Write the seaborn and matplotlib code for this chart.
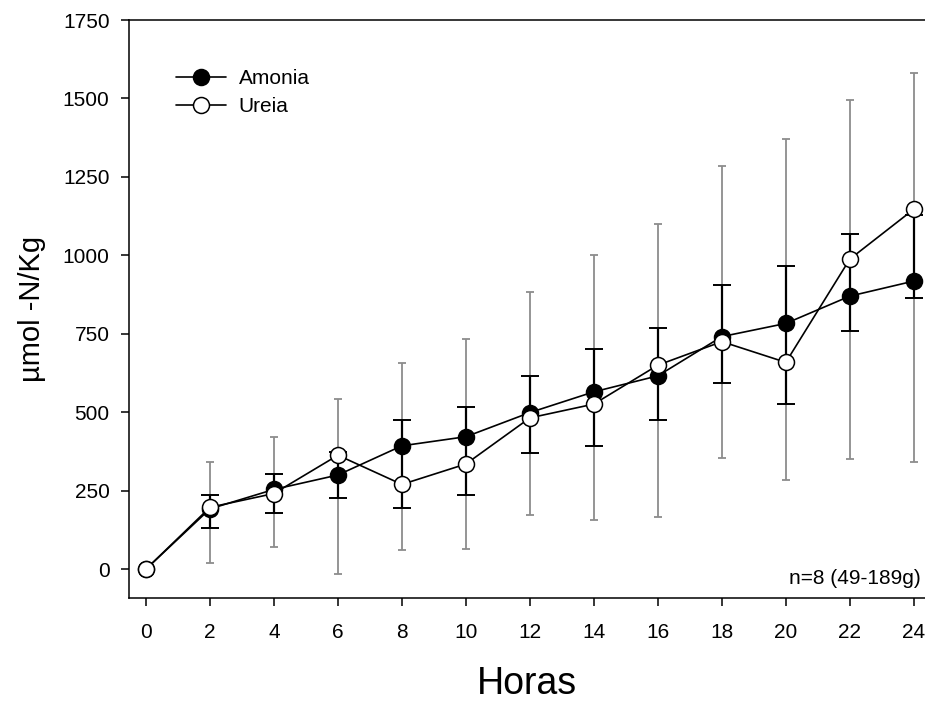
import numpy as np
import pandas as pd
import matplotlib
matplotlib.use("Agg")
import matplotlib.pyplot as plt
import seaborn as sns

hours = [0, 2, 4, 6, 8, 10, 12, 14, 16, 18, 20, 22, 24]
amonia = [0, 192, 254, 300, 393, 422, 499, 565, 616, 741, 783, 870, 918]
ureia = [0, 197, 241, 363, 270, 335, 482, 526, 650, 725, 659, 988, 1147]
amonia_low = [np.nan, 132, 180, 226, 194, 236, 369, 393, 476, 593, 525, 760, 864]
amonia_high = [np.nan, 236, 303, 374, 475, 517, 616, 700, 768, 907, 966, 1067, 1128]
ureia_low = [np.nan, 20, 71, -17, 61, 63, 172, 158, 165, 355, 285, 352, 342]
ureia_high = [np.nan, 340, 420, 541, 657, 732, 883, 1001, 1099, 1284, 1370, 1494, 1581]
yticks = [0, 250, 500, 750, 1000, 1250, 1500, 1750]
xticks = hours

sns.set_style("ticks")
plt.rcParams['font.family'] = ['Liberation Sans', 'DejaVu Sans']
plt.rcParams['text.color'] = 'black'
plt.rcParams['axes.labelcolor'] = 'black'

fig = plt.figure(figsize=(9.25, 7.02), dpi=100)
ax = fig.add_axes([129/925, 104/702, 796/925, 578/702])

df = pd.DataFrame({"Horas": hours, "Amonia": amonia, "Ureia": ureia,
                   "a_lo": amonia_low, "a_hi": amonia_high,
                   "u_lo": ureia_low, "u_hi": ureia_high})
e = df.dropna()

# gray error bars (Ureia)
ax.errorbar(e["Horas"], e["Ureia"],
            yerr=[e["Ureia"] - e["u_lo"], e["u_hi"] - e["Ureia"]],
            fmt='none', ecolor='#8c8c8c', elinewidth=1.3, capsize=3, capthick=1.3, zorder=1)
# black error bars (Amonia)
ax.errorbar(e["Horas"], e["Amonia"],
            yerr=[e["Amonia"] - e["a_lo"], e["a_hi"] - e["Amonia"]],
            fmt='none', ecolor='black', elinewidth=1.6, capsize=6.5, capthick=1.4, zorder=2)

sns.lineplot(data=df, x="Horas", y="Amonia", ax=ax, color='black', lw=1.2,
             marker='o', markersize=11.5, markerfacecolor='black', markeredgecolor='black',
             markeredgewidth=1.1, label='Amonia', zorder=3)
sns.lineplot(data=df, x="Horas", y="Ureia", ax=ax, color='black', lw=1.2,
             marker='o', markersize=11.5, markerfacecolor='white', markeredgecolor='black',
             markeredgewidth=1.1, label='Ureia', zorder=4)

ax.set_xlim(-0.53, 24.35)
ax.set_ylim(-92, 1750)
ax.set_xticks(xticks)
ax.set_yticks(yticks)
ax.tick_params(axis='both', labelsize=15, length=6, width=1.1, direction='out',
               colors='black', labelcolor='black')
ax.tick_params(axis='x', pad=12)
ax.tick_params(axis='y', pad=8)
for s in ['left', 'bottom', 'top']:
    ax.spines[s].set_visible(True)
    ax.spines[s].set_linewidth(1.1)
    ax.spines[s].set_color('black')
ax.spines['right'].set_visible(False)

ax.set_xlabel("Horas", fontsize=27, labelpad=17)
ax.set_ylabel("µmol -N/Kg", fontsize=21, labelpad=12)

leg = ax.legend(loc='upper left', bbox_to_anchor=(0.059, 0.915), frameon=False,
                fontsize=15, borderpad=0, borderaxespad=0, handlelength=2.4,
                handletextpad=0.6, labelspacing=0.42)

ax.text(0.995, 0.033, "n=8 (49-189g)", transform=ax.transAxes, ha='right', va='center', fontsize=15)

fig.savefig("out.png", dpi=100)
